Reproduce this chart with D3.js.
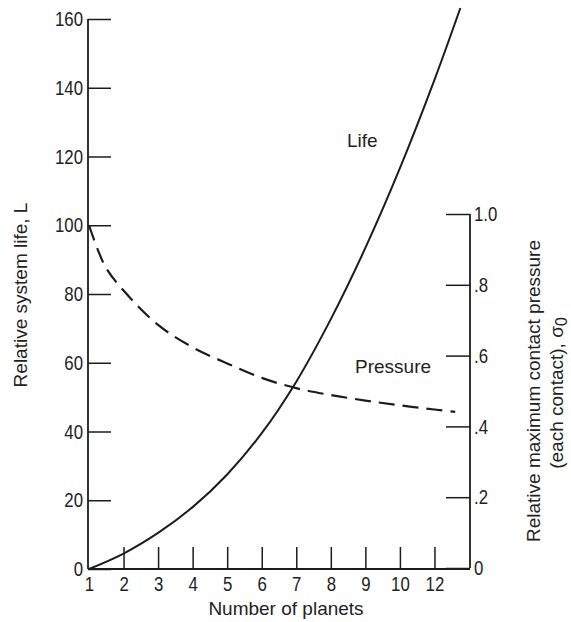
<!DOCTYPE html>
<html>
<head>
<meta charset="utf-8">
<script src="https://cdn.jsdelivr.net/npm/d3@7"></script>
<style>
  html, body { margin: 0; padding: 0; background: #fff; }
  svg { display: block; }
  .tick text { font-family: "Liberation Sans", Arial, sans-serif; font-size: 21px; fill: #222; }
  .lbl { font-family: "Liberation Sans", Arial, sans-serif; font-size: 19px; fill: #222; }
</style>
</head>
<body>
<svg id="chart" width="571" height="622"></svg>
<script>
// Number of planets and the curves drawn against it
const lifePlanets = [1, 2, 3, 4, 5, 6, 7, 8, 9, 10, 11, 11.75];
const lifeValues = [0, 4.5, 10.5, 18, 27.5, 39.5, 54.5, 72.7, 93.4, 116.6, 142.3, 163.2];

const pressurePlanets = [1, 1.25, 1.5, 2, 3, 4, 5, 6, 7, 8, 9, 10, 11, 11.6];
const pressureValues = [1.0, 0.93, 0.875, 0.81, 0.71, 0.645, 0.598, 0.556, 0.526, 0.506, 0.49, 0.476, 0.464, 0.457];

// Axis ticks
const xTickValues = [1, 2, 3, 4, 5, 6, 7, 8, 9, 10, 11];
const xTickLabels = ["1", "2", "3", "4", "5", "6", "7", "8", "9", "10", "12"];
const lifeTicks = [0, 20, 40, 60, 80, 100, 120, 140, 160];
const pressureTicks = [0, 0.2, 0.4, 0.6, 0.8, 1.0];
const pressureTickLabels = ["0", ".2", ".4", ".6", ".8", "1.0"];

const svg = d3.select("#chart");
const ink = "#1c1c1c";
const squeeze = 0.8; // narrow numerals

const x = d3.scaleLinear().domain([1, 12]).range([89, 469]);
const yLife = d3.scaleLinear().domain([0, 160]).range([569, 19]);
// pressure curve plotted relative to L = 100 at one planet
const yPress = d3.scaleLinear().domain([0, 1.6]).range([569, 19]);
const yRight = d3.scaleLinear().domain([0, 1]).range([568, 214]);

function styleAxis(g) {
  g.select(".domain").remove();
  g.selectAll(".tick line").attr("stroke", ink).attr("stroke-width", 1.5);
}

// condense tick numerals around their anchor point
function narrowText(g, xOff) {
  g.selectAll(".tick text")
    .attr("x", 0)
    .attr("transform", `translate(${xOff},0) scale(${squeeze},1)`);
}

// left axis: ticks point inward
svg.append("g")
  .attr("transform", "translate(88,0)")
  .call(d3.axisLeft(yLife).tickValues(lifeTicks).tickSize(-23).tickPadding(6).tickFormat(d3.format("d")))
  .call(styleAxis)
  .call(g => narrowText(g, -5));

svg.append("line")
  .attr("x1", 88).attr("x2", 88)
  .attr("y1", yLife(160)).attr("y2", yLife(0))
  .attr("stroke", ink).attr("stroke-width", 1.8);

// bottom axis: ticks point up
svg.append("g")
  .attr("transform", `translate(0,${yLife(0)})`)
  .call(d3.axisBottom(x).tickValues(xTickValues).tickSize(-22).tickPadding(7)
    .tickFormat((d, i) => xTickLabels[i]))
  .call(styleAxis)
  .call(g => narrowText(g, 0))
  .call(g => g.selectAll(".tick").filter(d => d === 1).select("line").remove());

svg.append("line")
  .attr("x1", 88).attr("x2", 470)
  .attr("y1", yLife(0)).attr("y2", yLife(0))
  .attr("stroke", ink).attr("stroke-width", 1.8);

// right axis: ticks point inward
svg.append("g")
  .attr("transform", "translate(470,0)")
  .call(d3.axisRight(yRight).tickValues(pressureTicks).tickSize(-24).tickPadding(4)
    .tickFormat((d, i) => pressureTickLabels[i]))
  .call(styleAxis)
  .call(g => narrowText(g, 4));

svg.append("line")
  .attr("x1", 470).attr("x2", 470)
  .attr("y1", yRight(1)).attr("y2", yRight(0))
  .attr("stroke", ink).attr("stroke-width", 1.8);

// curves
const lifeLine = d3.line()
  .x((d, i) => x(lifePlanets[i]))
  .y(d => yLife(d))
  .curve(d3.curveCatmullRom.alpha(0.5));

svg.append("path")
  .attr("d", lifeLine(lifeValues))
  .attr("fill", "none").attr("stroke", ink).attr("stroke-width", 2);

const pressLine = d3.line()
  .x((d, i) => x(pressurePlanets[i]))
  .y(d => yPress(d))
  .curve(d3.curveCatmullRom.alpha(0.5));

svg.append("path")
  .attr("d", pressLine(pressureValues))
  .attr("fill", "none").attr("stroke", ink).attr("stroke-width", 2.2)
  .attr("stroke-dasharray", "16,8");

// curve labels
svg.append("text").attr("class", "lbl").attr("x", 347).attr("y", 147).text("Life");
svg.append("text").attr("class", "lbl").attr("x", 355).attr("y", 373).text("Pressure");

// axis titles
svg.append("text").attr("class", "lbl")
  .attr("text-anchor", "middle")
  .attr("x", 286).attr("y", 615)
  .text("Number of planets");

svg.append("text").attr("class", "lbl")
  .attr("text-anchor", "middle")
  .attr("transform", "translate(27,295) rotate(-90)")
  .text("Relative system life, L");

svg.append("text").attr("class", "lbl")
  .attr("text-anchor", "middle")
  .attr("transform", "translate(540,391) rotate(-90)")
  .text("Relative maximum contact pressure");

const t2 = svg.append("text").attr("class", "lbl")
  .attr("text-anchor", "middle")
  .attr("transform", "translate(563,393) rotate(-90)");
t2.append("tspan").text("(each contact), \u03C3");
t2.append("tspan").attr("dy", 4).attr("font-size", 16).text("0");
</script>
</body>
</html>
